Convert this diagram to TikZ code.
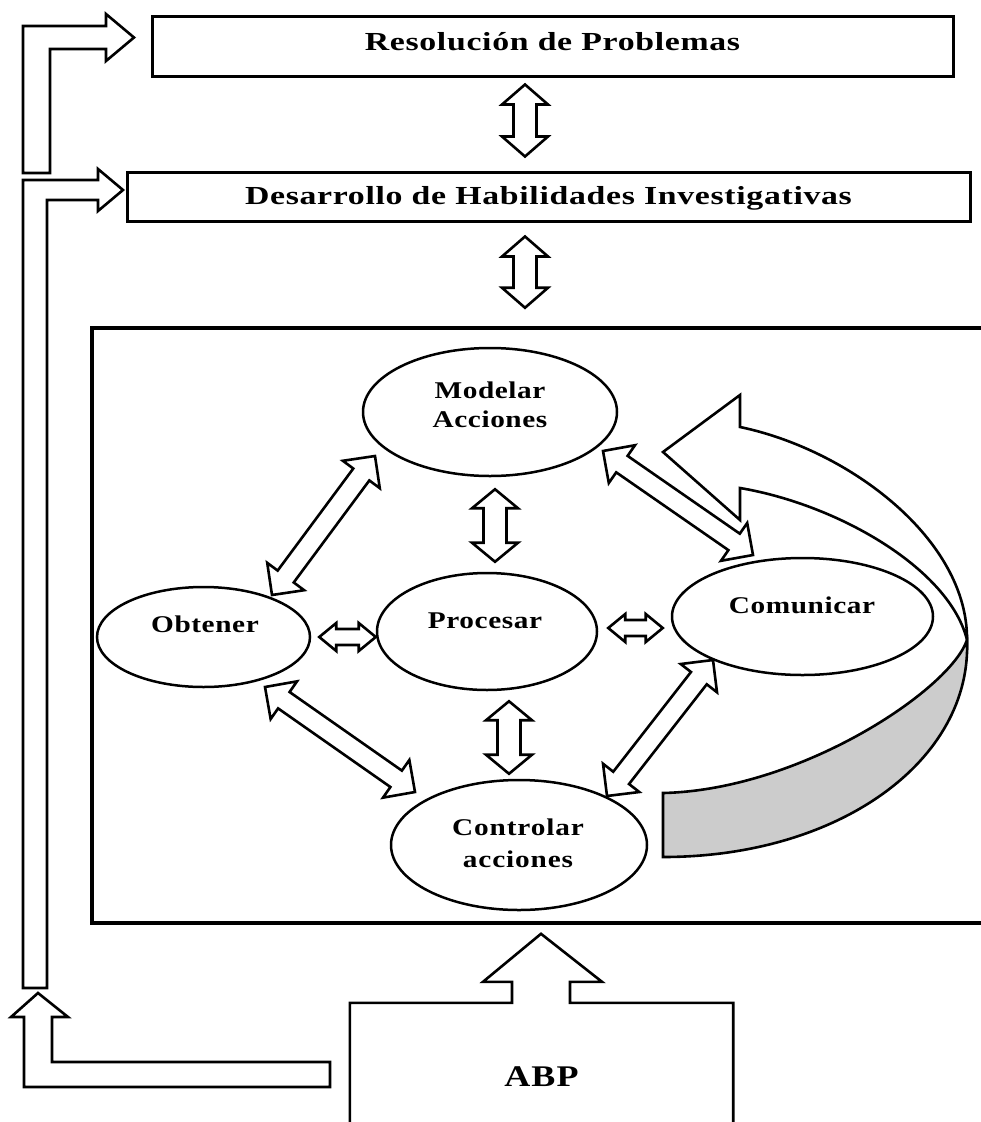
\documentclass[tikz,border=0pt]{standalone}
\usepackage{fontspec}
\usepackage{graphicx}
\setmainfont{Liberation Serif}
\usetikzlibrary{calc,shapes.geometric}
\newcommand\ellfont{\bfseries\fontsize{24}{29}\selectfont\addfontfeatures{LetterSpace=2}}
\newcommand\sxe[1]{\scalebox{1.22}[1]{#1}}
\newcommand\sxb[1]{\scalebox{1.3}[1]{#1}}
\tikzset{
  outl/.style={draw=black, line width=2.6pt, line join=miter, fill=white},
  ell/.style={ellipse, draw=black, line width=2.5pt, fill=white, inner sep=0pt},
  boxnode/.style={rectangle, draw=black, line width=3pt, inner sep=0pt},
  boxlbl/.style={font=\bfseries\fontsize{26}{30}\selectfont\addfontfeatures{LetterSpace=2}, inner sep=0pt, anchor=base},
  ellbl/.style={font=\ellfont, inner sep=0pt},
  grayface/.style={draw=black, line width=2.6pt, fill=black!20, line join=miter},
}
% from, to, head half width, shaft half width, head length
\newcommand\dblarr[5]{%
  \coordinate (dA) at (#1);
  \coordinate (dB) at (#2);
  \coordinate (dAh) at ($(dA)!#5!(dB)$);
  \coordinate (dBh) at ($(dB)!#5!(dA)$);
  \draw[outl] (dA) -- ($(dAh)!#3!90:(dB)$) -- ($(dAh)!#4!90:(dB)$)
     -- ($(dBh)!#4!-90:(dA)$) -- ($(dBh)!#3!-90:(dA)$) -- (dB)
     -- ($(dBh)!#3!90:(dA)$) -- ($(dBh)!#4!90:(dA)$)
     -- ($(dAh)!#4!-90:(dB)$) -- ($(dAh)!#3!-90:(dB)$) -- cycle;
}
\begin{document}
\begin{tikzpicture}[x=1pt,y=-1pt]
\useasboundingbox (0,0) rectangle (981,1122);
\fill[white] (0,0) rectangle (981,1122);

% top boxes
\node[boxnode, minimum width=801pt, minimum height=60pt] (rp) at (552.5,46) {};
\node[boxlbl] (rpt) at (552.5,50) {\sxb{Resolución de Problemas}};
\node[boxnode, minimum width=843pt, minimum height=49pt] (dh) at (548.5,196.5) {};
\node[boxlbl] (dht) at (548.5,204) {\sxb{Desarrollo de Habilidades Investigativas}};

% frame (open to the right)
\node[rectangle, draw=black, line width=4.5pt, minimum width=920pt, minimum height=595pt, inner sep=0pt] (frame) at (552,625.5) {};

% curved arrow
\draw[outl] (663,452) -- (740,395) -- (740,427) .. controls (850,450) and (968,540) .. (967,640)
   .. controls (950,570) and (840,505) .. (740,488) -- (740,520) -- cycle;
\draw[grayface] (967,640) .. controls (972,760) and (840,857) .. (663,857) -- (663,793)
   .. controls (800,790) and (950,690) .. (967,640) -- cycle;

% ellipses
\node[ell, minimum width=254pt, minimum height=128pt] (mod) at (490,412) {};
\node[ell, minimum width=213pt, minimum height=100pt] (obt) at (203.5,637) {};
\node[ell, minimum width=220pt, minimum height=117pt] (pro) at (487,631.5) {};
\node[ell, minimum width=261pt, minimum height=117pt] (com) at (802.5,616.5) {};
\node[ell, minimum width=256pt, minimum height=130pt] (con) at (519,845) {};

\node[ellbl, align=center] (modt) at (490,405) {\sxe{Modelar}\\\sxe{Acciones}};
\node[ellbl, anchor=base] (obtt) at (205,632) {\sxe{Obtener}};
\node[ellbl, anchor=base] (prot) at (485,628) {\sxe{Procesar}};
\node[ellbl, anchor=base] (comt) at (802,613) {\sxe{Comunicar}};
\node[ellbl, align=center, font=\bfseries\fontsize{24}{32}\selectfont\addfontfeatures{LetterSpace=3}] (cont) at (518,843) {\sxe{Controlar}\\\sxe{acciones}};

% connector end points
\coordinate (a1s) at ($(rp.south)+(-27.5,7)$);
\coordinate (a1e) at ($(dh.north)+(-23.5,-14)$);
\coordinate (a2s) at ($(dh.south)+(-23.5,14)$);
\coordinate (a2e) at ($(frame.north)+(-27,-18)$);
\coordinate (a3s) at ($(mod.south)+(5,12)$);
\coordinate (a3e) at ($(pro.north)+(8,-10)$);
\coordinate (a4s) at ($(pro.south)+(22,10)$);
\coordinate (a4e) at ($(con.north)+(-10,-5)$);
\coordinate (a5s) at ($(obt.east)+(8,0)$);
\coordinate (a5e) at ($(pro.west)+(0,5.5)$);
\coordinate (a6s) at ($(pro.east)+(10,-3.5)$);
\coordinate (a6e) at ($(com.west)+(-8,11.5)$);
\coordinate (a7s) at ($(mod)+(-115,44)$);
\coordinate (a7e) at ($(obt)+(68.5,-42)$);
\coordinate (a8s) at ($(mod)+(113,39)$);
\coordinate (a8e) at ($(com)+(-49.5,-61.5)$);
\coordinate (a9s) at ($(obt)+(61.5,50)$);
\coordinate (a9e) at ($(con)+(-104,-53)$);
\coordinate (a10s) at ($(com)+(-89.5,43.5)$);
\coordinate (a10e) at ($(con)+(88,-49)$);

\dblarr{a1s}{a1e}{23pt}{11.5pt}{20pt}
\dblarr{a2s}{a2e}{23pt}{11.5pt}{20pt}
\dblarr{a3s}{a3e}{23pt}{11.5pt}{19pt}
\dblarr{a4s}{a4e}{23pt}{11.5pt}{19pt}
\dblarr{a5s}{a5e}{14pt}{8pt}{17pt}
\dblarr{a6s}{a6e}{14pt}{8pt}{17pt}
\dblarr{a7s}{a7e}{23pt}{10pt}{23pt}
\dblarr{a8s}{a8e}{23pt}{10pt}{23pt}
\dblarr{a9s}{a9e}{23pt}{10pt}{23pt}
\dblarr{a10s}{a10e}{23pt}{10pt}{23pt}

% ABP box with arrow into the frame
\node[inner sep=0pt, minimum width=383pt, minimum height=148pt, font=\bfseries\fontsize{30}{34}\selectfont\addfontfeatures{LetterSpace=3}] (abp) at (541.5,1077) {\scalebox{1.2}[1]{ABP}};
\draw[draw=black, line width=2.6pt, line join=miter] (abp.south west) -- (abp.north west)
   -- ($(abp.north)+(-29.5,0)$) -- ($(abp.north)+(-29.5,-21)$) -- ($(abp.north)+(-58.5,-21)$)
   -- ($(abp.north)+(-0.5,-69)$) -- ($(abp.north)+(60.5,-21)$) -- ($(abp.north)+(28.5,-21)$)
   -- ($(abp.north)+(28.5,0)$) -- (abp.north east) -- (abp.south east);

% left L-shaped arrows
\draw[outl] (23,173) -- (23,26) -- (106,26) -- (106,14) -- (134,37.5) -- (106,61) -- (106,49) -- (50,49) -- (50,173) -- cycle;
\draw[outl] (23,988) -- (23,180) -- (98,180) -- (98,169) -- (123,190) -- (98,211) -- (98,200) -- (47,200) -- (47,988) -- cycle;
\draw[outl] (38,993) -- (68,1017) -- (52,1017) -- (52,1062) -- (330,1062) -- (330,1087) -- (24,1087) -- (24,1017) -- (11,1017) -- cycle;
\end{tikzpicture}
\end{document}
